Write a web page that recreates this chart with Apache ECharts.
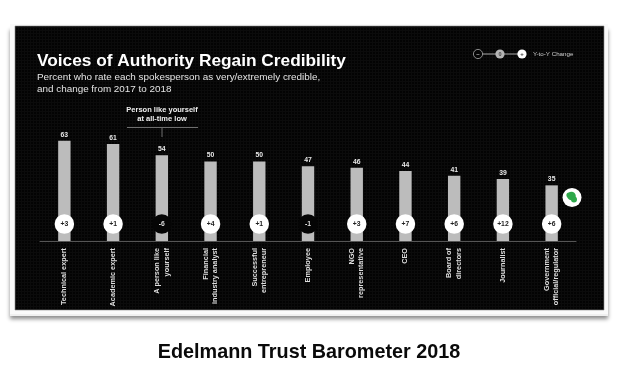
<!DOCTYPE html>
<html><head><meta charset="utf-8">
<script src="https://cdn.jsdelivr.net/npm/echarts@6/dist/echarts.min.js"></script>
<style>html,body{margin:0;padding:0;background:#fff}#c{width:632px;height:382px}</style>
</head><body><div id="c"></div>
<script>
const categories = ['Technical expert','Academic expert','A person like\nyourself','Financial\nindustry analyst','Successful\nentrepreneur','Employee','NGO\nrepresentative','CEO','Board of\ndirectors','Journalist','Government\nofficial/regulator'];
const credibility = [63,61,54,50,50,47,46,44,41,39,35];
const change = ['+3','+1','-6','+4','+1','-1','+3','+7','+6','+12','+6'];
const badgeLevel = [10.7,10.7,10.7,10.7,10.7,10.7,10.7,10.7,10.7,10.7,10.7];
const font = '"Liberation Sans", Arial, sans-serif';

const tile = document.createElement('canvas');
tile.width = 3; tile.height = 3;
const t = tile.getContext('2d');
t.fillStyle = '#030303'; t.fillRect(0,0,3,3);
t.fillStyle = '#0b0b0b'; t.fillRect(0,0,3,1); t.fillRect(0,0,1,3);

const chart = echarts.init(document.getElementById('c'), null, {renderer:'canvas'});
chart.setOption({
  animation:false,
  backgroundColor:'#fff',
  title:[
    {text:'Voices of Authority Regain Credibility',padding:0,left:37,top:53,textStyle:{color:'#fff',fontFamily:font,fontWeight:'bold',fontSize:17.3}},
    {text:'Percent who rate each spokesperson as very/extremely credible,\nand change from 2017 to 2018',padding:0,left:37,top:71.5,textStyle:{color:'#e4e4e4',fontFamily:font,fontWeight:'normal',fontSize:9.9,lineHeight:12}},
    {text:'Person like yourself\nat all-time low',padding:0,left:162,textAlign:'center',top:105,textStyle:{color:'#f0f0f0',fontFamily:font,fontWeight:'bold',fontSize:7.5,lineHeight:9}},
    {text:'Y-to-Y Change',padding:0,left:533,top:51,textStyle:{color:'#cfcfcf',fontFamily:font,fontWeight:'normal',fontSize:6.2}},
    {text:'Edelmann Trust Barometer 2018',padding:0,left:309,textAlign:'center',top:343,textStyle:{color:'#0a0a0a',fontFamily:font,fontWeight:'bold',fontSize:19.8}}
  ],
  grid:{left:40,right:56,top:82,height:159,containLabel:false},
  xAxis:{type:'category',data:categories,
    axisLine:{lineStyle:{color:'#555',width:1}},axisTick:{show:false},
    axisLabel:{interval:0,rotate:90,margin:7,color:'#dedede',fontFamily:font,fontWeight:'bold',fontSize:7.3,lineHeight:9.5,align:'right'}},
  yAxis:{type:'value',min:0,max:100,show:false,splitLine:{show:false}},
  series:[
    {type:'bar',data:credibility,barWidth:12.4,itemStyle:{color:'#bcbcbc'},z:2,
     label:{show:true,position:'top',distance:2.5,color:'#e8e8e8',fontFamily:font,fontWeight:'bold',fontSize:6.8}},
    {type:'scatter',data:badgeLevel.map((v,i)=>({value:[i,v],
        itemStyle:{color:change[i][0]==='-'?'#050505':'#fff',opacity:1},
        label:{color:change[i][0]==='-'?'#ddd':'#222'}})),
     symbol:'circle',symbolSize:19.5,z:3,
     label:{show:true,position:'inside',fontFamily:font,fontWeight:'bold',fontSize:6.8,formatter:p=>change[p.dataIndex]}}
  ],
  graphic:[
    {type:'rect',z:-30,shape:{x:10,y:27,width:598,height:289},style:{fill:'#f0f0f0',shadowBlur:4,shadowOffsetY:3,shadowColor:'rgba(0,0,0,0.45)'}},
    {type:'rect',z:-29,shape:{x:10,y:24,width:598,height:290},style:{fill:'#fafafa'}},
    {type:'rect',z:-28,shape:{x:15,y:26,width:589,height:284},style:{fill:{image:tile,repeat:'repeat'},stroke:'#888',lineWidth:0.6}},
    {type:'line',z:5,shape:{x1:127,y1:127.5,x2:198,y2:127.5},style:{stroke:'#6e6e6e',lineWidth:1}},
    {type:'line',z:5,shape:{x1:162,y1:127.5,x2:162,y2:137},style:{stroke:'#6e6e6e',lineWidth:1}},
    {type:'line',z:5,shape:{x1:478,y1:54,x2:522,y2:54},style:{stroke:'#aaa',lineWidth:1}},
    {type:'circle',z:6,shape:{cx:478,cy:54,r:4.6},style:{fill:'#050505',stroke:'#aaa',lineWidth:0.8}},
    {type:'circle',z:6,shape:{cx:500,cy:54,r:4.6},style:{fill:'#b4b4b4'}},
    {type:'circle',z:6,shape:{cx:522,cy:54,r:4.6},style:{fill:'#fff'}},
    {type:'text',z:7,style:{x:478,y:54,text:'–',fill:'#ccc',fontSize:6,fontWeight:'bold',fontFamily:font,align:'center',verticalAlign:'middle'}},
    {type:'text',z:7,style:{x:500,y:54,text:'0',fill:'#444',fontSize:5.5,fontWeight:'bold',fontFamily:font,align:'center',verticalAlign:'middle'}},
    {type:'text',z:7,style:{x:522,y:54,text:'+',fill:'#333',fontSize:6,fontWeight:'bold',fontFamily:font,align:'center',verticalAlign:'middle'}},
    {type:'circle',z:8,shape:{cx:572,cy:197.5,r:9.5},style:{fill:'#fff'}},
    {type:'circle',z:9,shape:{cx:571.5,cy:196,r:4.3},style:{fill:'#2ea84a'}},
    {type:'circle',z:9,shape:{cx:574,cy:199.5,r:3},style:{fill:'#2ea84a'}},
    {type:'circle',z:9,shape:{cx:569,cy:195,r:2.6},style:{fill:'#2ea84a'}}
  ]
});
</script></body></html>
